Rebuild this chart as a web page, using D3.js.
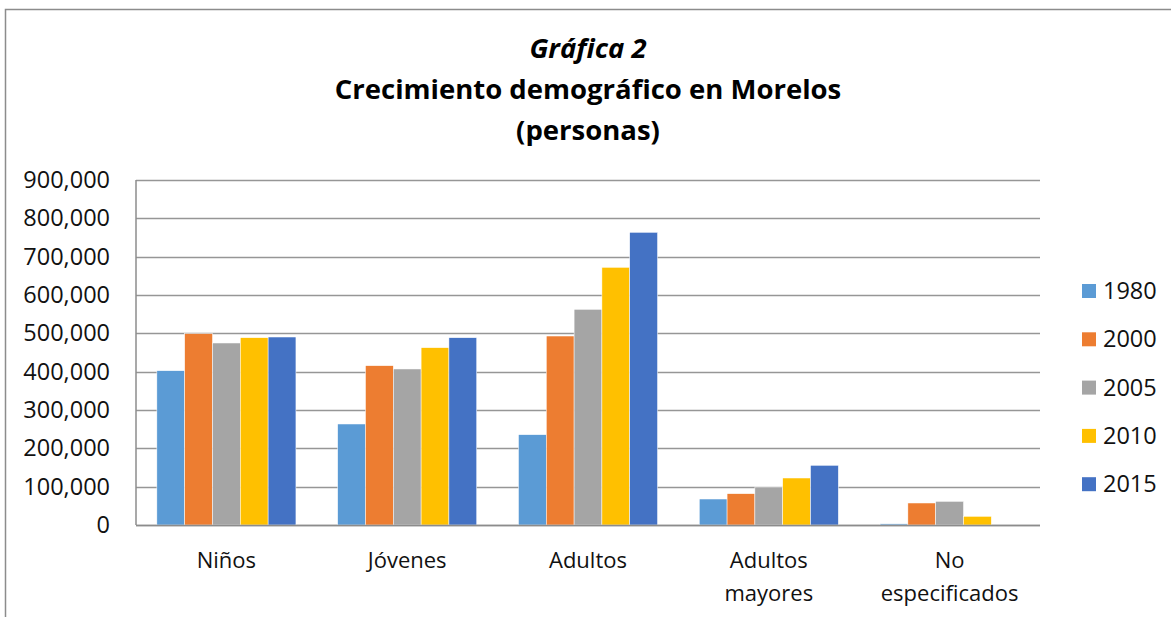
<!DOCTYPE html>
<html>
<head>
<meta charset="utf-8">
<script src="https://cdn.jsdelivr.net/npm/d3@7"></script>
<style>
  body { margin: 0; background: #fff; }
  svg { display: block; font-family: "Open Sans", "Noto Sans", sans-serif; }
</style>
</head>
<body>
<div id="chart"></div>
<script>
// data
const categories = ["Niños", "Jóvenes", "Adultos", "Adultos mayores", "No especificados"];
const categoryLines = [["Niños"], ["Jóvenes"], ["Adultos"], ["Adultos", "mayores"], ["No", "especificados"]];
const years = ["1980", "2000", "2005", "2010", "2015"];
const v1980 = [402500, 263500, 235600, 67800, 3000];
const v2000 = [499000, 415600, 493000, 81700, 57400];
const v2005 = [474800, 407000, 562600, 99100, 61700];
const v2010 = [488600, 462600, 672200, 122600, 22600];
const v2015 = [490400, 488600, 763500, 155700, 0];
const yTicks = [0, 100000, 200000, 300000, 400000, 500000, 600000, 700000, 800000, 900000];
const colors = ["#5B9BD5", "#ED7D31", "#A5A5A5", "#FFC000", "#4472C4"];

const series = [v1980, v2000, v2005, v2010, v2015];

const W = 1171, H = 617;
const margin = { top: 180, right: 131, bottom: 92, left: 136 };

const svg = d3.select("#chart").append("svg")
    .attr("width", W)
    .attr("height", H);

// chart frame (only top and left edges visible)
svg.append("path")
    .attr("d", "M5.5," + H + "V9.5H" + W)
    .attr("fill", "none")
    .attr("stroke", "#8c8c8c")
    .attr("stroke-width", 1.5);

const x0 = d3.scaleBand()
    .domain(categories)
    .range([margin.left, W - margin.right]);

const x1 = d3.scaleBand()
    .domain(years)
    .range([0, x0.bandwidth()])
    .paddingOuter(0.75);

const y = d3.scaleLinear()
    .domain([0, 900000])
    .range([H - margin.bottom, margin.top]);

// gridlines
svg.append("g")
    .selectAll("line")
    .data(yTicks)
    .enter().append("line")
    .attr("x1", margin.left)
    .attr("x2", W - margin.right)
    .attr("y1", d => Math.round(y(d)) + 0.5)
    .attr("y2", d => Math.round(y(d)) + 0.5)
    .attr("stroke", "#969696")
    .attr("stroke-width", 1.3);

// y axis labels
const yAxis = d3.axisLeft(y)
    .tickValues(yTicks)
    .tickFormat(d3.format(","))
    .tickSize(0)
    .tickPadding(26);

svg.append("g")
    .attr("class", "yaxis")
    .attr("transform", "translate(" + margin.left + ",0)")
    .call(yAxis)
    .call(g => g.select(".domain").remove())
    .selectAll("text")
    .attr("font-size", 23.5)
    .attr("font-family", "Open Sans")
    .attr("fill", "#111");

// bars
const groups = svg.append("g")
    .selectAll("g")
    .data(categories)
    .enter().append("g")
    .attr("transform", d => "translate(" + x0(d) + ",0)");

groups.selectAll("rect")
    .data((c, i) => years.map((yr, j) => ({ year: yr, value: series[j][i], color: colors[j] })))
    .enter().append("rect")
    .attr("x", d => x1(d.year))
    .attr("width", x1.bandwidth())
    .attr("y", d => y(d.value))
    .attr("height", d => y(0) - y(d.value))
    .attr("fill", d => d.color)
    .attr("stroke", "#fff")
    .attr("stroke-width", 0.5);

// axis lines
svg.append("line")
    .attr("x1", margin.left).attr("x2", margin.left)
    .attr("y1", y(900000)).attr("y2", y(0))
    .attr("stroke", "#8c8c8c").attr("stroke-width", 1.5);
svg.append("line")
    .attr("x1", margin.left).attr("x2", W - margin.right)
    .attr("y1", y(0) + 0.5).attr("y2", y(0) + 0.5)
    .attr("stroke", "#8c8c8c").attr("stroke-width", 1.5);

// category labels
const xl = svg.append("g")
    .selectAll("text")
    .data(categories)
    .enter().append("text")
    .attr("x", d => x0(d) + x0.bandwidth() / 2)
    .attr("y", 568)
    .attr("text-anchor", "middle")
    .attr("font-size", 22)
    .attr("fill", "#111");

xl.selectAll("tspan")
    .data((d, i) => categoryLines[i])
    .enter().append("tspan")
    .attr("x", function () { return d3.select(this.parentNode).attr("x"); })
    .attr("dy", (d, i) => i === 0 ? 0 : 33)
    .text(d => d);

// title
const title = svg.append("text")
    .attr("x", 588)
    .attr("text-anchor", "middle")
    .attr("font-weight", "bold")
    .attr("font-size", 27.5)
    .attr("fill", "#000");
title.append("tspan").attr("x", 588).attr("y", 58).attr("font-style", "italic").text("Gráfica 2");
title.append("tspan").attr("x", 588).attr("y", 99).text("Crecimiento demográfico en Morelos");
title.append("tspan").attr("x", 588).attr("y", 140).text("(personas)");

// legend
const legend = svg.append("g")
    .selectAll("g")
    .data(years)
    .enter().append("g")
    .attr("transform", (d, i) => "translate(1082," + (291 + i * 48.3) + ")");

legend.append("rect")
    .attr("x", 0)
    .attr("y", -7)
    .attr("width", 14)
    .attr("height", 14)
    .attr("fill", (d, i) => colors[i]);

legend.append("text")
    .attr("x", 21)
    .attr("y", 8)
    .attr("font-size", 23.5)
    .attr("fill", "#111")
    .text(d => d);
</script>
</body>
</html>
